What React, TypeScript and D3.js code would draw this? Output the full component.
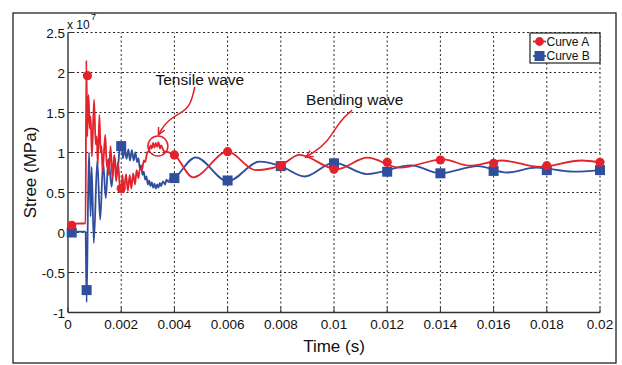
import React from 'react';
import * as d3 from 'd3';

const xTicks = [0, 0.002, 0.004, 0.006, 0.008, 0.01, 0.012, 0.014, 0.016, 0.018, 0.02];
const xTickLabels = ['0', '0.002', '0.004', '0.006', '0.008', '0.01', '0.012', '0.014', '0.016', '0.018', '0.02'];
const yTicks = [-1, -0.5, 0, 0.5, 1, 1.5, 2, 2.5];
const yTickLabels = ['-1', '-0.5', '0', '0.5', '1', '1.5', '2', '2.5'];

// Curve A (red), values in units of 1e7
const curveA: [number, number][] = [
  [0, 0.1], [0.0003, 0.11], [0.00066, 0.115], [0.00069, 2.15], [0.000725, 1.2], [0.00077, 1.72],
  [0.00082, 1.3], [0.00085, 1.45], [0.0009, 0.95], [0.00098, 1.66], [0.00104, 1.1], [0.00108, 1.2],
  [0.00112, 0.85], [0.00118, 1.47], [0.00123, 1.0], [0.00126, 1.08], [0.0013, 0.76], [0.0014, 1.22],
  [0.00146, 0.82], [0.0015, 0.9], [0.00153, 0.72], [0.0016, 1.08], [0.00167, 0.68], [0.00174, 0.97],
  [0.00181, 0.64], [0.00188, 0.88], [0.00195, 0.58], [0.002, 0.55], [0.00205, 0.72], [0.0021, 0.5],
  [0.00218, 0.73], [0.00225, 0.52], [0.00232, 0.72], [0.00238, 0.55], [0.00245, 0.74], [0.00252, 0.6],
  [0.00258, 0.78], [0.00265, 0.68], [0.0027, 0.8], [0.00278, 0.78], [0.00285, 0.9], [0.0029, 0.88],
  [0.00298, 1.0], [0.00305, 1.02], [0.0031, 1.09], [0.00315, 1.05], [0.0032, 1.12], [0.00325, 1.06],
  [0.0033, 1.12], [0.00335, 1.07], [0.0034, 1.13], [0.00346, 1.05], [0.0035, 1.09], [0.0036, 1.02],
  [0.0038, 1.0], [0.004, 0.97], [0.0047, 0.69], [0.006, 1.01], [0.00705, 0.78], [0.0076, 0.8],
  [0.008, 0.84], [0.0087, 0.97], [0.0101, 0.79], [0.01125, 0.935], [0.01248, 0.81], [0.0141, 0.915],
  [0.0151, 0.835], [0.0163, 0.9], [0.01775, 0.82], [0.0193, 0.9], [0.02, 0.877],
];

// Curve B (blue)
const curveB: [number, number][] = [
  [0, 0.0], [0.0003, 0.01], [0.00063, 0.01], [0.00066, 0.0], [0.0007, -0.87], [0.00075, 0.3],
  [0.00079, 1.0], [0.00085, 0.2], [0.00089, 0.82], [0.00097, -0.13], [0.0011, 0.9], [0.00121, 0.16],
  [0.00132, 0.88], [0.00142, 0.43], [0.00152, 0.92], [0.00164, 0.57], [0.00174, 0.95], [0.00184, 0.72],
  [0.00195, 1.05], [0.002, 1.08], [0.00207, 0.93], [0.00213, 1.05], [0.0022, 0.92], [0.00227, 1.04],
  [0.00233, 0.9], [0.0024, 1.03], [0.00247, 0.9], [0.00253, 1.0], [0.0026, 0.88], [0.00265, 0.93],
  [0.0027, 0.8], [0.00275, 0.84], [0.0028, 0.72], [0.00285, 0.76], [0.0029, 0.66], [0.00295, 0.7],
  [0.003, 0.6], [0.00305, 0.65], [0.0031, 0.58], [0.00315, 0.63], [0.0032, 0.56], [0.00325, 0.61],
  [0.0033, 0.55], [0.00335, 0.6], [0.0034, 0.56], [0.00345, 0.62], [0.0035, 0.58], [0.00357, 0.64],
  [0.00365, 0.6], [0.0037, 0.66], [0.00378, 0.63], [0.00385, 0.68], [0.0039, 0.66], [0.004, 0.68],
  [0.0048, 0.94], [0.006, 0.64], [0.0072, 0.885], [0.008, 0.83], [0.0089, 0.7], [0.01, 0.873],
  [0.01125, 0.73], [0.0129, 0.84], [0.014, 0.74], [0.0154, 0.83], [0.0165, 0.75], [0.0176, 0.81],
  [0.019, 0.76], [0.02, 0.78],
];

const markersAT = [0.00014, 0.00073, 0.002, 0.004, 0.006, 0.008, 0.01, 0.012, 0.014, 0.016, 0.018, 0.02];
const markersAV = [0.09, 1.96, 0.55, 0.97, 1.01, 0.83, 0.79, 0.877, 0.906, 0.865, 0.835, 0.877];
const markersBT = [0.00014, 0.0007, 0.002, 0.004, 0.006, 0.008, 0.01, 0.012, 0.014, 0.016, 0.018, 0.02];
const markersBV = [0.0, -0.72, 1.08, 0.68, 0.65, 0.83, 0.865, 0.76, 0.74, 0.77, 0.78, 0.78];

const seriesNames = ['Curve A', 'Curve B'];

// Annotation anchors in data units
const tensileText: [number, number] = [0.00329, 1.85];
const tensileArrow: [number, number][] = [[0.00477, 1.82], [0.00459, 1.57], [0.00421, 1.49], [0.00371, 1.39], [0.00346, 1.26], [0.0034, 1.22]];
const tensileCircle: [number, number] = [0.00338, 1.081];
const bendingText: [number, number] = [0.00895, 1.6];
const bendingArrow: [number, number][] = [[0.01068, 1.53], [0.01023, 1.4], [0.00974, 1.12], [0.00923, 1.0], [0.00894, 0.94]];

const RED = '#e3222b';
const BLUE = '#2f4e9e';
const FONT = '"Liberation Sans", Arial, Helvetica, sans-serif';

export default function App() {
  const W = 622, H = 365;
  const x = d3.scaleLinear().domain([0, 0.02]).range([68, 600]);
  const y = d3.scaleLinear().domain([-1, 2.5]).range([312.5, 32.5]);
  const line = d3.line<[number, number]>().x(d => x(d[0])).y(d => y(d[1])).curve(d3.curveMonotoneX);
  const arrowLine = d3.line<[number, number]>().x(d => x(d[0])).y(d => y(d[1])).curve(d3.curveBasis);

  const arrowHead = (pts: [number, number][]) => {
    const a = pts[pts.length - 2], b = pts[pts.length - 1];
    const x1 = x(a[0]), y1 = y(a[1]), x2 = x(b[0]), y2 = y(b[1]);
    const ang = Math.atan2(y2 - y1, x2 - x1);
    const L = 8, sp = 0.45;
    const p1 = [x2 - L * Math.cos(ang - sp), y2 - L * Math.sin(ang - sp)];
    const p2 = [x2 - L * Math.cos(ang + sp), y2 - L * Math.sin(ang + sp)];
    return `M${p1[0]},${p1[1]}L${x2},${y2}L${p2[0]},${p2[1]}`;
  };

  const [x0, x1] = x.range();
  const [yb, yt] = y.range();

  return (
    <svg width={W} height={H} style={{ position: 'absolute', left: 0, top: 0, background: '#fff' }} fontFamily={FONT}>
      <rect x={0} y={0} width={W} height={H} fill="#fff" />
      <rect x={13} y={13} width={603} height={350} fill="none" stroke="#222" strokeWidth={1.3} />
      {/* grid */}
      {xTicks.filter(t => t > 0).map((t, i) => (
        <line key={'gx' + i} x1={x(t)} x2={x(t)} y1={yb} y2={yt} stroke="#222" strokeWidth={1} strokeDasharray="2,2.5" />
      ))}
      {yTicks.filter(t => t > -1).map((t, i) => (
        <line key={'gy' + i} x1={x0} x2={x1} y1={y(t)} y2={y(t)} stroke="#222" strokeWidth={1} strokeDasharray="2,2.5" />
      ))}
      {/* axes */}
      <line x1={x0} x2={x0} y1={yb} y2={yt} stroke="#333" strokeWidth={1.4} />
      <line x1={x0} x2={x1} y1={yb} y2={yb} stroke="#333" strokeWidth={1.4} />
      {yTicks.map((t, i) => (
        <g key={'yt' + i}>
          <line x1={x0} x2={x0 + 5} y1={y(t)} y2={y(t)} stroke="#333" strokeWidth={1} />
          <text x={65} y={y(t) + 5} textAnchor="end" fontSize={13.5} fill="#111">{yTickLabels[i]}</text>
        </g>
      ))}
      {xTicks.map((t, i) => (
        <g key={'xt' + i}>
          <line x1={x(t)} x2={x(t)} y1={yb} y2={yb - 5} stroke="#333" strokeWidth={1} />
          <text x={x(t)} y={328.5} textAnchor="middle" fontSize={13.5} fill="#111">{xTickLabels[i]}</text>
        </g>
      ))}
      <text x={67} y={29} fontSize={12} fill="#111">x 10</text>
      <text x={91} y={19.5} fontSize={9} fill="#111">7</text>
      <text x={x(0.01)} y={352} textAnchor="middle" fontSize={17} fill="#111">Time (s)</text>
      <text transform={`translate(36,${y(0.75)}) rotate(-90)`} textAnchor="middle" fontSize={17} fill="#111">Stree (MPa)</text>

      {/* curves */}
      <path d={line(curveB) || ''} fill="none" stroke={BLUE} strokeWidth={1.8} strokeLinejoin="round" />
      {markersBT.map((t, i) => (
        <rect key={'mb' + i} x={x(t) - 5} y={y(markersBV[i]) - 5} width={10} height={10} fill={BLUE} />
      ))}
      <path d={line(curveA) || ''} fill="none" stroke={RED} strokeWidth={1.8} strokeLinejoin="round" />
      {markersAT.map((t, i) => (
        <circle key={'ma' + i} cx={x(t)} cy={y(markersAV[i])} r={4.6} fill={RED} />
      ))}

      {/* annotations */}
      <text x={x(tensileText[0])} y={y(tensileText[1])} fontSize={15.5} fill="#111">Tensile wave</text>
      <path d={arrowLine(tensileArrow) || ''} fill="none" stroke={RED} strokeWidth={1.5} />
      <path d={arrowHead(tensileArrow)} fill="none" stroke={RED} strokeWidth={1.5} />
      <circle cx={x(tensileCircle[0])} cy={y(tensileCircle[1])} r={10} fill="none" stroke={RED} strokeWidth={1.5} />
      <text x={x(bendingText[0])} y={y(bendingText[1])} fontSize={15.5} fill="#111">Bending wave</text>
      <path d={arrowLine(bendingArrow) || ''} fill="none" stroke={RED} strokeWidth={1.5} />
      <path d={arrowHead(bendingArrow)} fill="none" stroke={RED} strokeWidth={1.5} />

      {/* legend */}
      <rect x={530} y={33} width={70} height={30} fill="#fff" stroke="#222" strokeWidth={1.2} />
      {seriesNames.map((n, i) => {
        const ly = 41.5 + i * 14.5;
        return (
          <g key={'lg' + i}>
            <line x1={533} x2={546} y1={ly} y2={ly} stroke={i === 0 ? RED : BLUE} strokeWidth={1.8} />
            {i === 0
              ? <circle cx={539.5} cy={ly} r={4.4} fill={RED} />
              : <rect x={534.5} y={ly - 5} width={10} height={10} fill={BLUE} />}
            <text x={546.5} y={ly + 4.3} fontSize={12} fill="#111">{n}</text>
          </g>
        );
      })}
    </svg>
  );
}
